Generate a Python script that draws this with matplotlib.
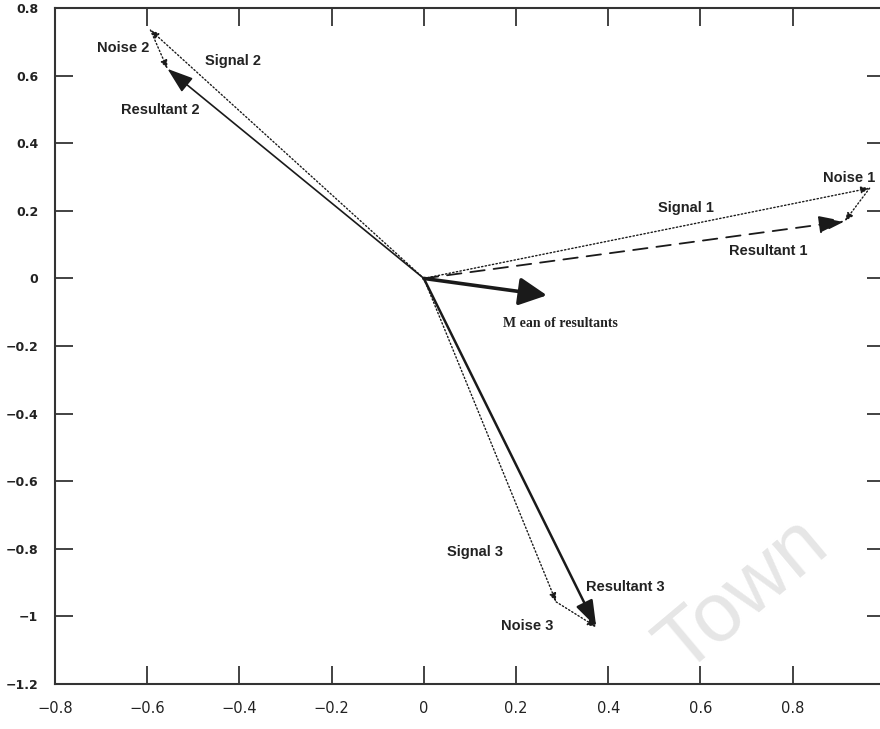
import numpy as np
import matplotlib
matplotlib.use("Agg")
import matplotlib.pyplot as plt

# ===============================
# DATA
# ===============================
origin = (0.0, 0.0)
signal_ends = [(0.967, 0.267), (-0.593, 0.735), (0.287, -0.957)]
resultant_ends = [(0.913, 0.169), (-0.556, 0.62), (0.374, -1.031)]
mean_end = (0.267, -0.05)

xticks = [-0.8, -0.6, -0.4, -0.2, 0, 0.2, 0.4, 0.6, 0.8]
xtick_labels = ["\u22120.8", "\u22120.6", "\u22120.4", "\u22120.2", "0", "0.2", "0.4", "0.6", "0.8"]
yticks = [-1.2, -1.0, -0.8, -0.6, -0.4, -0.2, 0, 0.2, 0.4, 0.6, 0.8]
ytick_labels = ["\u22121.2", "\u22121", "\u22120.8", "\u22120.6", "\u22120.4", "\u22120.2", "0",
                "0.2", "0.4", "0.6", "0.8"]

# label text and position (left edge, vertical centre)
labels = ["Noise 1", "Signal 1", "Resultant 1",
          "Noise 2", "Signal 2", "Resultant 2",
          "Noise 3", "Signal 3", "Resultant 3"]
label_pos = [(0.865, 0.296), (0.507, 0.207), (0.663, 0.08),
             (-0.709, 0.681), (-0.474, 0.643), (-0.657, 0.498),
             (0.167, -1.028), (0.05, -0.809), (0.352, -0.913)]

# ===============================
# FIGURE
# ===============================
fig = plt.figure(figsize=(8.8, 7.29), dpi=100)
ax = fig.add_axes([0.0625, 0.0617, 0.943, 0.9273])
ax.set_xlim(-0.8, 1.0)
ax.set_ylim(-1.2, 0.8)

def arrow(start, end, ls, lw, head, hw):
    ax.annotate("", xy=end, xytext=start,
                arrowprops=dict(arrowstyle="-|>,head_length=%g,head_width=%g" % (head, hw),
                                linestyle=ls, lw=lw, color="#1a1a1a",
                                shrinkA=0, shrinkB=0))

# signals (dotted)
for s in signal_ends:
    arrow(origin, s, ":", 1.0, 0.5, 0.2)

# noise (dotted, from signal tip to resultant tip)
for s, r in zip(signal_ends, resultant_ends):
    arrow(s, r, ":", 1.0, 0.5, 0.2)

# resultants
arrow(origin, resultant_ends[0], (0, (8, 5)), 1.3, 1.6, 0.55)
arrow(origin, resultant_ends[1], "-", 1.2, 1.6, 0.55)
arrow(origin, resultant_ends[2], "-", 1.8, 1.6, 0.55)

# mean of resultants
arrow(origin, mean_end, "-", 2.6, 1.7, 0.85)

for t, (x, y) in zip(labels, label_pos):
    ax.text(x, y, t, fontsize=10.5, fontweight="bold", family="Liberation Sans",
            color="#222222", ha="left", va="center")
ax.text(0.172, -0.134, "M ean of resultants", fontsize=10, fontweight="bold",
        family="Liberation Serif", color="#222222", ha="left", va="center")

# faint watermark
ax.text(0.691, -0.94, "Town", fontsize=60, color="#e6e6e6", rotation=40,
        rotation_mode="anchor", ha="center", va="center",
        family="Liberation Sans", zorder=0)

ax.set_xticks(xticks)
ax.set_xticklabels(xtick_labels)
ax.set_yticks(yticks)
ax.set_yticklabels(ytick_labels)
ax.tick_params(direction="in", length=13, width=1.2, top=True, right=True,
               labelsize=10.5, pad=12, colors="#222222")
for lab in ax.get_yticklabels():
    lab.set_fontweight("bold")
    lab.set_fontsize(9)
for sp in ax.spines.values():
    sp.set_linewidth(1.5)
    sp.set_color("#333333")

fig.savefig("out.png", dpi=100)
